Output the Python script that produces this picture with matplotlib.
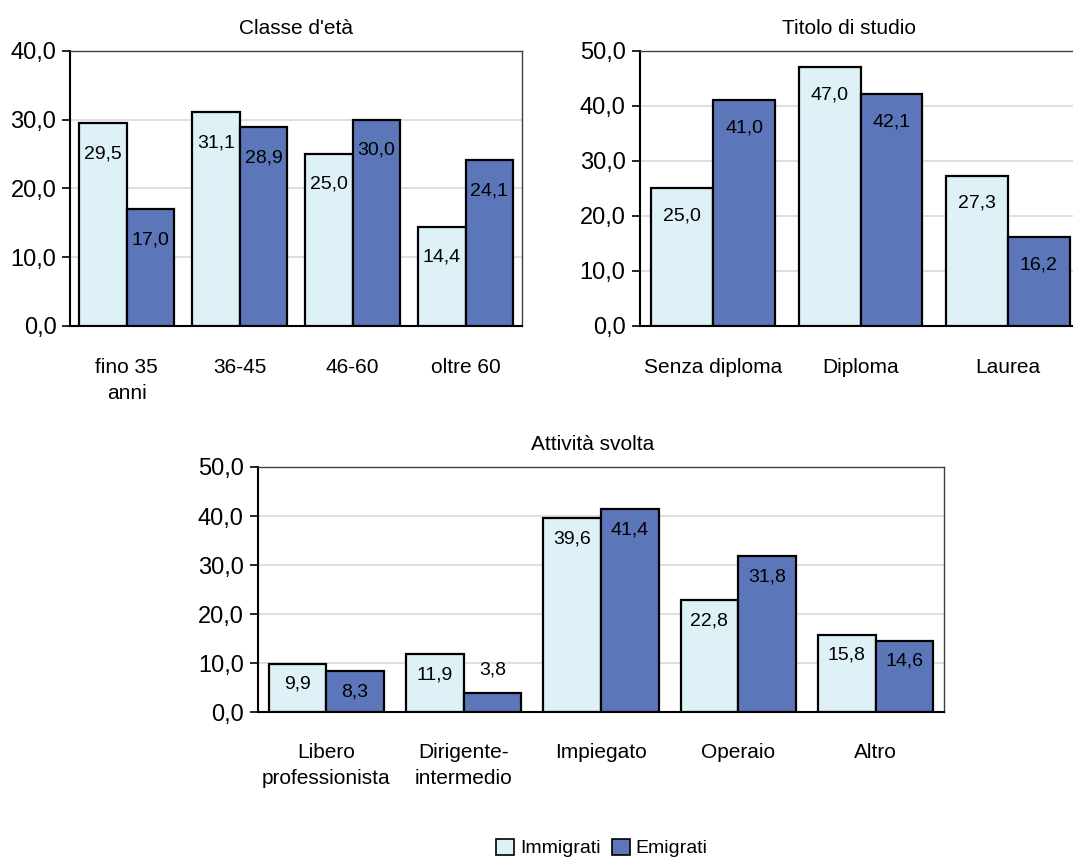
import numpy as np
import matplotlib
matplotlib.use('Agg')
import matplotlib.pyplot as plt
from matplotlib.patches import Patch

plt.rcParams['font.family'] = ['Liberation Sans', 'DejaVu Sans']

LIGHT = '#ddf1f7'
DARK = '#5b76b9'

# data
eta_labels = ['fino 35\nanni', '36-45', '46-60', 'oltre 60']
eta_imm = [29.5, 31.1, 25.0, 14.4]
eta_emi = [17.0, 28.9, 30.0, 24.1]

studio_labels = ['Senza diploma', 'Diploma', 'Laurea']
studio_imm = [25.0, 47.0, 27.3]
studio_emi = [41.0, 42.1, 16.2]

att_labels = ['Libero\nprofessionista', 'Dirigente-\nintermedio', 'Impiegato', 'Operaio', 'Altro']
att_imm = [9.9, 11.9, 39.6, 22.8, 15.8]
att_emi = [8.3, 3.8, 41.4, 31.8, 14.6]


def fmt(v):
  return ('%.1f' % v).replace('.', ',')


def draw(ax, title, labels, imm, emi, ymax, xpad=20, lab_off=21, title_x=0.5):
  x = np.arange(len(labels))
  w = 0.42
  b1 = ax.bar(x - w / 2, imm, w, color=LIGHT, edgecolor='black', linewidth=1.6, zorder=3)
  b2 = ax.bar(x + w / 2, emi, w, color=DARK, edgecolor='black', linewidth=1.6, zorder=3)
  for bars, vals in ((b1, imm), (b2, emi)):
    for r, v in zip(bars, vals):
      cx = r.get_x() + r.get_width() / 2
      # short bars get the label above
      off = 17 if v < 6 else -lab_off
      ax.annotate(fmt(v), (cx, v), xytext=(0, off), textcoords='offset points',
                  ha='center', va='center', fontsize=14, zorder=4)
  ax.set_xlim(-0.5, len(labels) - 0.5)
  ax.set_ylim(0, ymax)
  ax.set_yticks(np.arange(0, ymax + 1, 10))
  ax.set_yticklabels([fmt(t) for t in np.arange(0, ymax + 1, 10)], fontsize=17)
  ax.set_xticks(x)
  ax.set_xticklabels(labels, fontsize=15, linespacing=1.5)
  ax.tick_params(axis='x', length=0, pad=xpad)
  ax.tick_params(axis='y', length=6, width=1.2, direction='out', pad=4)
  ax.yaxis.grid(True, color='#d9d9d9', linewidth=1.2, zorder=0)
  ax.set_axisbelow(True)
  for s in ('left', 'bottom'):
    ax.spines[s].set_linewidth(1.5)
    ax.spines[s].set_color('black')
  for s in ('top', 'right'):
    ax.spines[s].set_linewidth(1.0)
    ax.spines[s].set_color('#404040')
  ax.set_title(title, fontsize=15, pad=12, x=title_x)


fig = plt.figure(figsize=(10.73, 8.6), dpi=100)

ax1 = fig.add_axes([0.0655, 0.621, 0.421, 0.320])
draw(ax1, "Classe d'età", eta_labels, eta_imm, eta_emi, 40, xpad=23, lab_off=22)

ax2 = fig.add_axes([0.596, 0.621, 0.412, 0.320])
draw(ax2, 'Titolo di studio', studio_labels, studio_imm, studio_emi, 50, xpad=23, lab_off=20,
     title_x=0.473)

ax3 = fig.add_axes([0.240, 0.172, 0.640, 0.285])
draw(ax3, 'Attività svolta', att_labels, att_imm, att_emi, 50, xpad=22, lab_off=15,
     title_x=0.488)

handles = [Patch(facecolor=LIGHT, edgecolor='black', linewidth=1.2, label='Immigrati'),
           Patch(facecolor=DARK, edgecolor='black', linewidth=1.2, label='Emigrati')]
fig.legend(handles=handles, loc='center', bbox_to_anchor=(0.561, 0.014), ncol=2, frameon=False,
           fontsize=14, handlelength=0.9, handleheight=0.9, handletextpad=0.3, columnspacing=0.6)

fig.savefig('out.png', dpi=100)
